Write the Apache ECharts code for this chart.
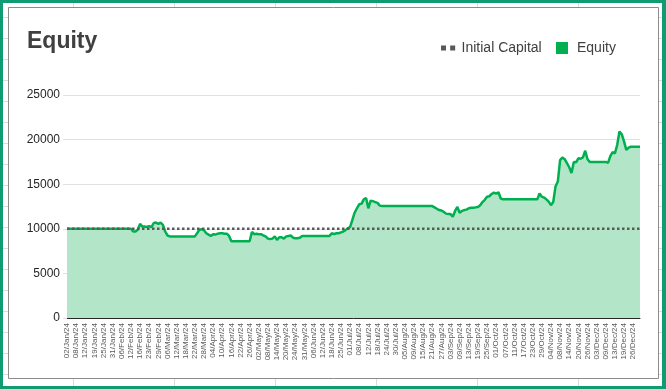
<!DOCTYPE html>
<html>
<head>
<meta charset="utf-8">
<script src="https://cdn.jsdelivr.net/npm/echarts@6/dist/echarts.min.js"></script>
<style>
html,body{margin:0;padding:0;background:#ffffff;}
#chart{width:666px;height:389px;}
</style>
</head>
<body>
<div id="chart"></div>
<script>
// ---------------- DATA ----------------
const monthNames = ['Jan','Feb','Mar','Apr','May','Jun','Jul','Aug','Sep','Oct','Nov','Dec'];
// US trading days of 2024, by month
const tradingDays = {
  Jan: [2,3,4,5,8,9,10,11,12,16,17,18,19,22,23,24,25,26,29,30,31],
  Feb: [1,2,5,6,7,8,9,12,13,14,15,16,20,21,22,23,26,27,28,29],
  Mar: [1,4,5,6,7,8,11,12,13,14,15,18,19,20,21,22,25,26,27,28],
  Apr: [1,2,3,4,5,8,9,10,11,12,15,16,17,18,19,22,23,24,25,26,29,30],
  May: [1,2,3,6,7,8,9,10,13,14,15,16,17,20,21,22,23,24,28,29,30,31],
  Jun: [3,4,5,6,7,10,11,12,13,14,17,18,20,21,24,25,26,27,28],
  Jul: [1,2,3,5,8,9,10,11,12,15,16,17,18,19,22,23,24,25,26,29,30,31],
  Aug: [1,2,5,6,7,8,9,12,13,14,15,16,19,20,21,22,23,26,27,28,29,30],
  Sep: [3,4,5,6,9,10,11,12,13,16,17,18,19,20,23,24,25,26,27,30],
  Oct: [1,2,3,4,7,8,9,10,11,14,15,16,17,18,21,22,23,24,25,28,29,30,31],
  Nov: [1,4,5,6,7,8,11,12,13,14,15,18,19,20,21,22,25,26,27,29],
  Dec: [2,3,4,5,6,9,10,11,12,13,16,17,18,19,20,23,24,26,27,30,31]
};
const yTickValues = [0, 5000, 10000, 15000, 20000, 25000];
const initialCapital = 10000;
const equity = [
  10000,10000,10000,10000,10000,10000,10000,10000,10000,10000,
  10000,10000,10000,10000,10000,10000,10000,10000,10000,10000,
  10000,10000,10000,10000,10000,10000,10000,10000,10000,
  9700,9700,9900,10550,10250,10250,10200,10300,10200,10650,10700,10550,10700,10450,9700,9250,9150,
  9150,9150,9150,9150,9150,9150,9150,9150,9150,9150,9150,
  9500,9900,9950,9850,9500,9350,9200,9400,9350,9450,9500,9500,9450,9450,9200,
  8600,8600,8600,8600,8600,8600,8600,8600,8600,
  9650,9400,9450,9400,9400,9250,9150,8900,8850,8900,9150,8750,9050,9050,8900,9150,9200,9250,9000,8950,8950,9000,
  9200,9200,9200,9200,9200,9200,9200,9200,9200,9200,9200,9200,9200,
  9500,9400,9500,9500,9600,9700,9850,10050,10200,11000,11800,12300,12750,12800,13300,13450,12300,13150,13100,13000,12900,12600,
  12550,12550,12550,12550,12550,12550,12550,12550,12550,12550,12550,12550,
  12550,12550,12550,12550,12550,12550,12550,12550,12550,12550,12550,
  12400,12250,12100,12050,11900,11700,11650,11650,11350,12000,12450,11800,12000,12100,12150,
  12300,12350,12350,12400,12450,12650,13000,13250,13600,13650,13900,14050,13950,14100,13400,
  13300,13300,13300,13300,13300,13300,13300,13300,13300,13300,13300,13300,13300,13300,13300,13300,
  13950,13600,13500,13300,13050,12650,13000,14750,15300,17700,18000,17800,17350,16900,16250,
  17500,17450,17900,17850,18000,18750,17800,
  17500,17500,17500,17500,17500,17500,17500,17500,
  17400,18150,18600,18450,19400,20900,20600,19800,18850,19100,
  19200,19200,19200,19200,19200
];

// category labels built from the trading-day table
const categories = [];
monthNames.forEach(m => tradingDays[m].forEach(d => {
  categories.push(String(d).padStart(2, '0') + '/' + m + '/24');
}));

// ---------------- CHART ----------------
const FONT = '"Liberation Sans", Arial, Helvetica, sans-serif';
const chart = echarts.init(document.getElementById('chart'), null, {renderer: 'canvas'});

// sheet-like background: green frame, faint cell lines, chart box
const bgEls = [];
bgEls.push({type: 'rect', silent: true, z: -30, shape: {x: 0, y: 0, width: 666, height: 389}, style: {fill: '#109c72'}});
bgEls.push({type: 'rect', silent: true, z: -29, shape: {x: 3, y: 3, width: 659, height: 383}, style: {fill: '#ffffff'}});
for (let y = 17.5; y < 386; y += 21) {
  bgEls.push({type: 'line', silent: true, z: -28, shape: {x1: 3, y1: y, x2: 662, y2: y}, style: {stroke: '#dcdcdc', lineWidth: 1}});
}
for (let x = 73.5; x < 662; x += 101) {
  bgEls.push({type: 'line', silent: true, z: -28, shape: {x1: x, y1: 3, x2: x, y2: 386}, style: {stroke: '#dcdcdc', lineWidth: 1}});
}
bgEls.push({type: 'rect', silent: true, z: -20, shape: {x: 8.5, y: 7.5, width: 650, height: 371}, style: {fill: '#ffffff', stroke: '#8c8c8c', lineWidth: 1}});

const option = {
  animation: false,
  backgroundColor: '#ffffff',
  textStyle: {fontFamily: FONT},
  graphic: {elements: bgEls},
  title: {
    text: 'Equity',
    left: 27, top: 30, padding: 0,
    textStyle: {fontFamily: FONT, fontSize: 23, fontWeight: 'bold', color: '#404040'}
  },
  legend: [
    {
      data: [{name: 'Initial Capital', icon: 'path://M0,0H6V6H0Z M11,0H17V6H11Z', itemStyle: {color: '#595959'}}],
      left: 441, top: 41, padding: 0,
      itemWidth: 17, itemHeight: 5,
      textStyle: {fontFamily: FONT, fontSize: 14, color: '#404040'}
    },
    {
      data: [{name: 'Equity', icon: 'rect', itemStyle: {color: '#00b050'}}],
      left: 556, top: 41, padding: 0,
      itemWidth: 12, itemHeight: 12,
      textStyle: {fontFamily: FONT, fontSize: 14, color: '#404040', padding: [0, 0, 0, 4]}
    }
  ],
  grid: {left: 67, right: 26, top: 95, bottom: 71, containLabel: false},
  xAxis: {
    type: 'category',
    data: categories,
    boundaryGap: false,
    axisLine: {show: true, lineStyle: {color: '#262626', width: 1}},
    axisTick: {show: false},
    axisLabel: {interval: 3, rotate: 90, fontSize: 8, color: '#595959', margin: 5, fontFamily: FONT},
    splitLine: {show: false}
  },
  yAxis: {
    type: 'value',
    min: yTickValues[0],
    max: yTickValues[yTickValues.length - 1],
    interval: yTickValues[1] - yTickValues[0],
    axisLine: {show: false},
    axisTick: {show: true, length: 4, lineStyle: {color: '#e0e0e0'}},
    axisLabel: {fontSize: 12, color: '#262626', margin: 7, fontFamily: FONT, formatter: v => String(v)},
    splitLine: {show: true, lineStyle: {color: '#e0e0e0', width: 1}}
  },
  series: [
    {
      name: 'Equity',
      type: 'line',
      data: equity,
      symbol: 'none',
      z: 2,
      itemStyle: {color: '#00b050'},
      lineStyle: {color: '#00b050', width: 2.5},
      areaStyle: {color: '#b3e6c8', opacity: 1}
    },
    {
      name: 'Initial Capital',
      type: 'line',
      data: [[categories[0], initialCapital], [categories[categories.length - 1], initialCapital]],
      symbol: 'none',
      z: 3,
      itemStyle: {color: '#595959'},
      lineStyle: {color: '#595959', width: 2.5, type: 'dotted'}
    }
  ]
};
chart.setOption(option);
</script>
</body>
</html>
